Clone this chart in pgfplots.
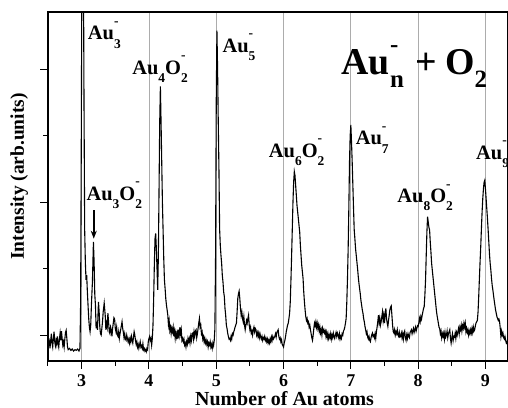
\documentclass[border=0pt]{standalone}
\usepackage{pgfplots}
\pgfplotsset{compat=1.18}
\usepackage{fontspec}
\setmainfont{Liberation Serif}
\usetikzlibrary{arrows.meta}
\newcommand{\sbsp}[2]{\rlap{\raisebox{0.72em}{\fontsize{13.5}{13.5}\selectfont #2}}\raisebox{-0.4em}{\fontsize{13.5}{13.5}\selectfont #1}}
\begin{document}
\begin{tikzpicture}
\begin{axis}[
  scale only axis, width=460bp, height=349bp,
  xmin=2.5, xmax=9.335, ymin=-0.39, ymax=4.86,
  clip mode=individual,
  axis line style={line width=1.1bp},
  tick align=outside, xtick pos=lower, ytick pos=left,
  xtick={3,4,5,6,7,8,9}, minor xtick={2.5,3.5,4.5,5.5,6.5,7.5,8.5},
  ytick={0,2,4}, minor ytick={1,3}, yticklabels={},
  major tick length=7.5bp, minor tick length=4.5bp,
  every tick/.style={black, line width=1bp},
  xmajorgrids, major grid style={draw=gray!65, line width=0.8bp},
  /pgf/number format/assume math mode=true,
  xticklabel style={font=\fontsize{18}{20}\selectfont\bfseries, inner sep=0pt, yshift=-6bp},
]
\coordinate (O) at (rel axis cs:0,0);
\addplot[black, line width=1.1bp] table {
2.50 -0.05
2.51 -0.15
2.52 -0.10
2.53 -0.20
2.54 -0.08
2.55 0.02
2.56 -0.12
2.57 -0.18
2.58 -0.05
2.59 0.05
2.60 -0.10
2.61 -0.16
2.62 -0.08
2.63 -0.14
2.64 -0.02
2.65 -0.12
2.66 -0.18
2.67 -0.06
2.68 0.03
2.69 -0.08
2.70 0.06
2.71 -0.05
2.72 -0.15
2.73 -0.10
2.74 -0.18
2.75 -0.06
2.76 0.04
2.77 0.07
2.78 -0.05
2.79 -0.18
2.80 -0.22
2.82 -0.20
2.84 -0.23
2.86 -0.21
2.88 -0.24
2.90 -0.22
2.92 -0.23
2.94 -0.21
2.96 -0.24
2.975 -0.20
2.985 0.5
2.995 3.0
3.005 6.0
3.015 7.0
3.025 6.0
3.035 3.5
3.045 1.58
3.055 1.10
3.065 0.83
3.075 0.90
3.085 0.65
3.095 0.45
3.105 0.25
3.115 0.12
3.125 0.05
3.135 0.15
3.145 0.45
3.16 0.80
3.175 1.40
3.185 1.10
3.195 0.62
3.205 0.45
3.215 0.10
3.225 0.20
3.235 0.08
3.25 0.50
3.26 0.35
3.27 0.12
3.28 0.02
3.29 0.0
3.30 0.10
3.31 0.20
3.32 0.35
3.335 0.48
3.35 0.30
3.36 0.08
3.37 0.18
3.38 0.12
3.39 0.33
3.40 0.20
3.41 0.05
3.42 0.02
3.43 0.12
3.44 0.08
3.45 -0.02
3.46 0.10
3.47 0.18
3.48 0.26
3.49 0.24
3.50 0.10
3.51 0.05
3.52 0.12
3.53 0.0
3.54 -0.02
3.55 0.05
3.56 -0.05
3.57 0.02
3.58 0.08
3.59 0.14
3.60 0.20
3.61 0.10
3.62 0.04
3.63 -0.04
3.64 0.02
3.65 -0.06
3.66 -0.08
3.67 0.0
3.68 -0.05
3.69 -0.10
3.70 -0.06
3.71 -0.12
3.72 -0.05
3.73 -0.10
3.74 -0.02
3.75 -0.08
3.76 -0.12
3.77 -0.03
3.78 0.05
3.79 0.0
3.80 -0.08
3.81 -0.14
3.82 -0.10
3.83 -0.18
3.84 -0.14
3.85 -0.20
3.86 -0.15
3.87 -0.10
3.88 -0.18
3.89 -0.16
3.90 -0.20
3.91 -0.13
3.92 -0.22
3.93 -0.20
3.94 -0.24
3.95 -0.22
3.96 -0.25
3.97 -0.20
3.98 -0.22
3.99 -0.10
4.00 -0.05
4.01 -0.02
4.02 -0.08
4.03 -0.05
4.04 -0.15
4.05 -0.05
4.06 0.15
4.07 0.55
4.08 1.05
4.09 1.45
4.10 1.53
4.11 1.30
4.12 1.00
4.13 0.68
4.14 1.20
4.15 2.20
4.16 3.20
4.17 3.74
4.18 3.20
4.19 2.60
4.20 2.00
4.21 1.58
4.22 1.15
4.23 0.83
4.24 0.70
4.25 0.55
4.26 0.45
4.27 0.38
4.28 0.30
4.29 0.15
4.30 0.22
4.31 0.07
4.32 0.12
4.33 0.02
4.34 0.10
4.35 0.05
4.36 0.12
4.37 -0.02
4.38 0.06
4.39 -0.05
4.40 0.04
4.41 -0.03
4.42 0.03
4.43 -0.06
4.44 0.08
4.45 0.0
4.46 0.12
4.47 0.02
4.48 0.08
4.49 -0.08
4.50 -0.05
4.51 -0.10
4.52 -0.06
4.53 -0.15
4.54 -0.12
4.55 -0.18
4.56 -0.10
4.57 -0.14
4.58 -0.05
4.59 -0.10
4.60 -0.05
4.61 -0.12
4.62 -0.02
4.63 -0.08
4.64 0.02
4.65 0.03
4.66 -0.06
4.67 0.05
4.68 -0.02
4.69 0.06
4.70 0.08
4.71 -0.04
4.72 0.02
4.73 0.10
4.74 0.18
4.75 0.25
4.76 0.12
4.77 0.15
4.78 0.02
4.79 0.05
4.80 -0.06
4.81 -0.02
4.82 -0.10
4.83 -0.05
4.84 -0.12
4.85 -0.08
4.86 -0.14
4.87 -0.10
4.88 -0.18
4.89 -0.12
4.90 -0.15
4.91 -0.10
4.92 -0.18
4.93 -0.14
4.94 -0.20
4.95 -0.12
4.96 -0.16
4.97 -0.08
4.98 0.10
4.99 1.2
5.00 3.5
5.01 4.58
5.02 4.0
5.03 3.2
5.04 2.5
5.05 1.60
5.06 1.35
5.07 1.20
5.08 1.08
5.09 0.90
5.10 0.80
5.11 0.65
5.12 0.58
5.13 0.40
5.14 0.30
5.15 0.15
5.16 0.10
5.17 0.03
5.18 -0.02
5.19 -0.06
5.20 -0.05
5.21 -0.08
5.22 -0.02
5.23 -0.06
5.24 0.02
5.25 0.0
5.26 0.05
5.27 0.08
5.28 0.12
5.29 0.15
5.30 0.18
5.31 0.35
5.32 0.55
5.33 0.62
5.34 0.66
5.35 0.55
5.36 0.40
5.37 0.30
5.38 0.35
5.39 0.25
5.40 0.20
5.41 0.28
5.42 0.15
5.43 0.08
5.44 0.15
5.45 0.22
5.46 0.18
5.47 0.25
5.48 0.30
5.49 0.15
5.50 0.08
5.51 0.12
5.52 0.03
5.53 0.06
5.54 0.0
5.55 0.08
5.56 0.12
5.57 0.05
5.58 0.10
5.59 0.08
5.60 0.0
5.61 0.04
5.62 -0.02
5.63 0.03
5.64 -0.04
5.65 0.02
5.66 -0.03
5.67 -0.06
5.68 -0.02
5.69 -0.08
5.70 -0.04
5.71 -0.06
5.72 -0.02
5.73 -0.08
5.74 -0.05
5.75 -0.10
5.76 -0.06
5.77 -0.12
5.78 -0.08
5.79 -0.12
5.80 -0.06
5.81 -0.10
5.82 -0.03
5.83 -0.08
5.84 -0.02
5.85 -0.06
5.86 -0.04
5.87 -0.02
5.88 0.02
5.89 -0.03
5.90 0.04
5.91 0.06
5.92 0.08
5.93 -0.02
5.94 -0.06
5.95 -0.04
5.96 -0.10
5.97 -0.07
5.98 -0.14
5.99 -0.16
6.00 -0.18
6.01 -0.12
6.02 -0.08
6.03 -0.02
6.04 0.05
6.05 0.10
6.06 0.15
6.07 0.18
6.08 0.25
6.09 0.33
6.10 0.50
6.11 0.83
6.12 1.20
6.13 1.60
6.14 2.00
6.15 2.30
6.16 2.46
6.17 2.40
6.18 2.25
6.19 2.10
6.20 1.95
6.21 1.85
6.22 1.75
6.23 1.65
6.24 1.55
6.25 1.35
6.26 1.20
6.27 1.05
6.28 0.95
6.29 0.85
6.30 0.65
6.31 0.50
6.32 0.38
6.33 0.28
6.34 0.22
6.35 0.25
6.36 0.18
6.37 0.20
6.38 0.12
6.39 0.15
6.40 0.08
6.41 0.02
6.42 -0.04
6.43 -0.08
6.44 0.0
6.45 0.10
6.46 0.18
6.47 0.14
6.48 0.20
6.49 0.12
6.50 0.18
6.51 0.10
6.52 0.15
6.53 0.06
6.54 0.12
6.55 0.03
6.56 0.08
6.57 0.0
6.58 0.10
6.59 0.05
6.60 0.08
6.61 0.03
6.62 0.06
6.63 -0.02
6.64 0.04
6.65 -0.04
6.66 0.02
6.67 -0.05
6.68 0.0
6.69 -0.04
6.70 0.02
6.71 -0.06
6.72 0.0
6.73 -0.04
6.74 0.03
6.75 -0.02
6.76 -0.05
6.77 0.0
6.78 0.04
6.79 -0.02
6.80 0.03
6.81 0.0
6.82 -0.04
6.83 0.02
6.84 -0.06
6.85 -0.02
6.86 -0.05
6.87 0.02
6.88 0.0
6.89 0.06
6.90 0.08
6.91 0.12
6.92 0.18
6.93 0.25
6.94 0.50
6.95 0.85
6.96 1.30
6.97 1.90
6.98 2.60
6.99 3.00
7.00 3.16
7.01 2.90
7.02 2.60
7.03 2.25
7.04 1.90
7.05 1.58
7.06 1.45
7.07 1.30
7.08 1.20
7.09 1.10
7.10 1.00
7.11 0.88
7.12 0.78
7.13 0.70
7.14 0.62
7.15 0.52
7.16 0.45
7.17 0.38
7.18 0.33
7.19 0.25
7.20 0.20
7.21 0.13
7.22 0.08
7.23 0.02
7.24 0.05
7.25 -0.03
7.26 -0.06
7.27 -0.02
7.28 -0.08
7.29 -0.10
7.30 -0.04
7.31 0.0
7.32 0.03
7.33 -0.02
7.34 0.0
7.35 -0.04
7.36 0.02
7.37 -0.05
7.38 0.05
7.39 0.12
7.40 0.20
7.41 0.30
7.42 0.18
7.43 0.25
7.44 0.15
7.45 0.20
7.46 0.28
7.47 0.35
7.48 0.22
7.49 0.30
7.50 0.18
7.51 0.32
7.52 0.40
7.53 0.25
7.54 0.18
7.55 0.13
7.56 0.22
7.57 0.30
7.58 0.38
7.59 0.42
7.60 0.44
7.61 0.30
7.62 0.15
7.63 0.05
7.64 0.03
7.65 0.08
7.66 0.0
7.67 0.05
7.68 0.02
7.69 0.08
7.70 0.0
7.71 -0.02
7.72 0.04
7.73 -0.03
7.74 -0.02
7.75 0.03
7.76 -0.04
7.77 0.02
7.78 -0.06
7.79 0.03
7.80 0.06
7.81 -0.04
7.82 -0.08
7.83 0.0
7.84 -0.05
7.85 0.02
7.86 -0.02
7.87 -0.04
7.88 0.04
7.89 0.06
7.90 0.08
7.91 0.02
7.92 0.06
7.93 0.10
7.94 0.04
7.95 0.08
7.96 0.12
7.97 0.06
7.98 0.10
7.99 0.14
8.00 0.13
8.01 0.18
8.02 0.25
8.03 0.20
8.04 0.28
8.05 0.24
8.06 0.30
8.07 0.35
8.08 0.40
8.09 0.43
8.10 0.60
8.11 0.83
8.12 1.20
8.13 1.55
8.14 1.78
8.15 1.70
8.16 1.62
8.17 1.58
8.18 1.40
8.19 1.25
8.20 1.08
8.21 0.98
8.22 0.88
8.23 0.78
8.24 0.68
8.25 0.58
8.26 0.48
8.27 0.38
8.28 0.30
8.29 0.24
8.30 0.18
8.31 0.12
8.32 0.10
8.33 0.02
8.34 0.06
8.35 -0.04
8.36 0.02
8.37 -0.02
8.38 0.03
8.39 -0.06
8.40 0.04
8.41 -0.03
8.42 0.0
8.43 0.06
8.44 -0.04
8.45 0.02
8.46 0.05
8.47 0.08
8.48 -0.05
8.49 -0.12
8.50 -0.04
8.51 0.02
8.52 -0.08
8.53 -0.02
8.54 -0.03
8.55 0.03
8.56 -0.05
8.57 0.04
8.58 0.0
8.59 0.05
8.60 0.10
8.61 0.02
8.62 0.12
8.63 0.08
8.64 0.15
8.65 0.06
8.66 0.14
8.67 0.10
8.68 0.18
8.69 0.12
8.70 0.18
8.71 0.05
8.72 0.10
8.73 0.04
8.74 0.08
8.75 0.0
8.76 0.06
8.77 0.02
8.78 0.08
8.79 0.03
8.80 0.10
8.81 0.04
8.82 0.12
8.83 0.06
8.84 0.08
8.85 0.14
8.86 0.18
8.87 0.20
8.88 0.22
8.89 0.35
8.90 0.58
8.91 0.85
8.92 1.10
8.93 1.33
8.94 1.60
8.95 1.85
8.96 2.05
8.97 2.20
8.98 2.30
8.99 2.33
9.00 2.20
9.01 2.05
9.02 1.90
9.03 1.75
9.04 1.58
9.05 1.40
9.06 1.22
9.07 1.08
9.08 0.98
9.09 0.85
9.10 0.75
9.11 0.68
9.12 0.60
9.13 0.52
9.14 0.45
9.15 0.38
9.16 0.33
9.17 0.28
9.18 0.25
9.19 0.22
9.20 0.24
9.21 0.20
9.22 0.10
9.23 -0.02
9.24 0.06
9.25 0.0
9.26 0.03
9.27 -0.04
9.28 -0.06
9.29 -0.02
9.30 -0.08
9.31 -0.12
9.32 -0.10
9.33 -0.14
};
\begin{scope}[every node/.style={inner sep=0pt, anchor=base west, font=\fontsize{20.5}{23}\selectfont\bfseries}]
\node at (axis cs:3.09,4.44) {Au\sbsp{3}{-}};
\node at (axis cs:3.75,3.92) {Au\sbsp{4}{}O\sbsp{2}{-}};
\node at (axis cs:5.09,4.25) {Au\sbsp{5}{-}};
\node at (axis cs:5.78,2.67) {Au\sbsp{6}{}O\sbsp{2}{-}};
\node at (axis cs:7.07,2.86) {Au\sbsp{7}{-}};
\node at (axis cs:7.69,1.99) {Au\sbsp{8}{}O\sbsp{2}{-}};
\node at (axis cs:8.86,2.64) {Au\sbsp{9}{-}};
\node at (axis cs:3.07,2.03) {Au\sbsp{3}{}O\sbsp{2}{-}};
\node[font=\fontsize{38}{40}\selectfont\bfseries] at (axis cs:6.86,3.92)
  {Au\rlap{\raisebox{0.58em}{\fontsize{25}{25}\selectfont -}}\raisebox{-0.34em}{\fontsize{25}{25}\selectfont n}\hspace{0.3em}+\hspace{0.22em}O\raisebox{-0.34em}{\fontsize{25}{25}\selectfont 2}};
\end{scope}
\draw[-{Stealth[length=8bp,width=6bp]}, line width=1.6bp] (axis cs:3.18,1.88) -- (axis cs:3.18,1.45);
\node[rotate=90, anchor=base, inner sep=0pt, font=\fontsize{19.5}{22}\selectfont\bfseries] at ([xshift=-24bp, yshift=184.5bp]O) {Intensity (arb.units)};
\node[anchor=base, inner sep=0pt, font=\fontsize{20}{22}\selectfont\bfseries] at ([xshift=236.5bp, yshift=-44bp]O) {Number of Au atoms};
\end{axis}
\pgfresetboundingbox
\useasboundingbox (O) ++(-48bp,-47bp) rectangle ++(508bp,408bp);
\end{tikzpicture}
\end{document}
